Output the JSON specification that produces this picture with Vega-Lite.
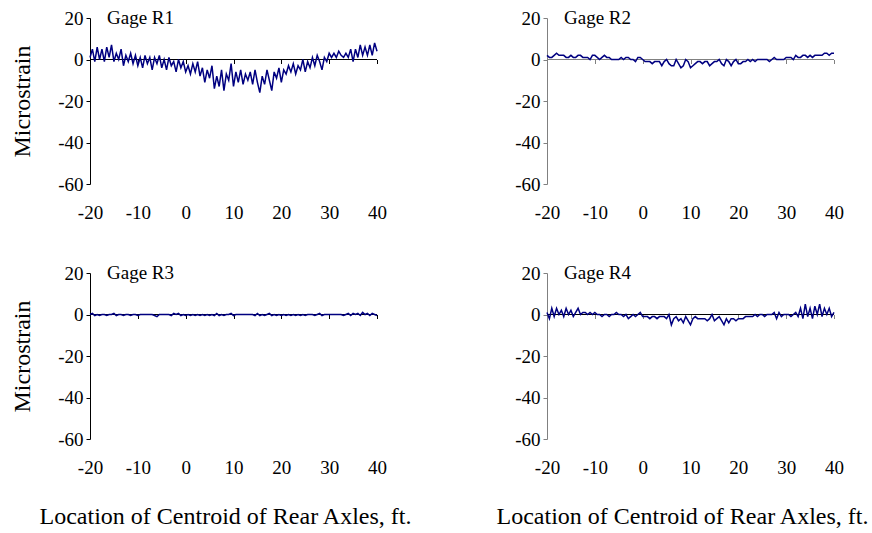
{
"$schema": "https://vega.github.io/schema/vega-lite/v6.json",
"padding": {"left": 10, "top": 9, "right": 5, "bottom": 5},
"config": {
  "view": {"stroke": null},
  "axis": {"grid": false, "labelFlush": false, "labelOverlap": false, "labelFont": "Liberation Serif", "titleFont": "Liberation Serif", "labelFontSize": 19, "titleFontSize": 24, "labelColor": "#000", "titleColor": "#000", "titleFontWeight": "normal", "domainColor": "#000", "tickColor": "#000", "labelExpr": "datum.value < 0 ? '-' + abs(datum.value) : '' + datum.value"}
},
"datasets": {
"R1": [
{"x":-20,"y":1},{"x":-19.5,"y":5},{"x":-19,"y":-1},{"x":-18.5,"y":6},{"x":-18,"y":0},{"x":-17.5,"y":5},{"x":-17,"y":-1},{"x":-16.5,"y":6},{"x":-16,"y":1},{"x":-15.5,"y":7},{"x":-15,"y":-1},{"x":-14.5,"y":3},{"x":-14,"y":0},{"x":-13.5,"y":5},{"x":-13,"y":-3},{"x":-12.5,"y":2},{"x":-12,"y":-1},{"x":-11.5,"y":3},{"x":-11,"y":-2},{"x":-10.5,"y":2},
{"x":-10,"y":-3},{"x":-9.5,"y":1},{"x":-9,"y":-4},{"x":-8.5,"y":2},{"x":-8,"y":-2},{"x":-7.5,"y":1},{"x":-7,"y":-5},{"x":-6.5,"y":1},{"x":-6,"y":-2},{"x":-5.5,"y":2},{"x":-5,"y":-4},{"x":-4.5,"y":0},{"x":-4,"y":-5},{"x":-3.5,"y":1},{"x":-3,"y":-3},{"x":-2.5,"y":-1},{"x":-2,"y":-6},{"x":-1.5,"y":0},{"x":-1,"y":-4},{"x":-0.5,"y":-1},
{"x":0,"y":-6},{"x":0.5,"y":-3},{"x":1,"y":-7},{"x":1.5,"y":-2},{"x":2,"y":-6},{"x":2.5,"y":-1},{"x":3,"y":-8},{"x":3.5,"y":-4},{"x":4,"y":-11},{"x":4.5,"y":-5},{"x":5,"y":-9},{"x":5.5,"y":-3},{"x":6,"y":-14},{"x":6.5,"y":-8},{"x":7,"y":-13},{"x":7.5,"y":-5},{"x":8,"y":-15},{"x":8.5,"y":-7},{"x":9,"y":-10},{"x":9.5,"y":-2},
{"x":10,"y":-13},{"x":10.5,"y":-6},{"x":11,"y":-11},{"x":11.5,"y":-5},{"x":12,"y":-12},{"x":12.5,"y":-7},{"x":13,"y":-10},{"x":13.5,"y":-6},{"x":14,"y":-12},{"x":14.5,"y":-5},{"x":15,"y":-11},{"x":15.5,"y":-16},{"x":16,"y":-8},{"x":16.5,"y":-12},{"x":17,"y":-5},{"x":17.5,"y":-10},{"x":18,"y":-15},{"x":18.5,"y":-6},{"x":19,"y":-9},{"x":19.5,"y":-4},
{"x":20,"y":-11},{"x":20.5,"y":-5},{"x":21,"y":-7},{"x":21.5,"y":-3},{"x":22,"y":-6},{"x":22.5,"y":-2},{"x":23,"y":-7},{"x":23.5,"y":-3},{"x":24,"y":-5},{"x":24.5,"y":0},{"x":25,"y":-6},{"x":25.5,"y":-1},{"x":26,"y":-4},{"x":26.5,"y":1},{"x":27,"y":-3},{"x":27.5,"y":2},{"x":28,"y":-1},{"x":28.5,"y":-5},{"x":29,"y":1},{"x":29.5,"y":-1},
{"x":30,"y":3},{"x":30.5,"y":1},{"x":31,"y":3},{"x":31.5,"y":1},{"x":32,"y":4},{"x":32.5,"y":2},{"x":33,"y":1},{"x":33.5,"y":3},{"x":34,"y":1},{"x":34.5,"y":5},{"x":35,"y":-1},{"x":35.5,"y":5},{"x":36,"y":1},{"x":36.5,"y":7},{"x":37,"y":2},{"x":37.5,"y":6},{"x":38,"y":2},{"x":38.5,"y":7},{"x":39,"y":2},{"x":39.5,"y":8},{"x":40,"y":4}
],
"R2": [
{"x":-20,"y":2},{"x":-19.5,"y":1},{"x":-19,"y":1},{"x":-18.5,"y":2},{"x":-18,"y":3},{"x":-17.5,"y":2},{"x":-17,"y":2},{"x":-16.5,"y":2},{"x":-16,"y":1},{"x":-15.5,"y":1},{"x":-15,"y":2},{"x":-14.5,"y":1},{"x":-14,"y":1},{"x":-13.5,"y":2},{"x":-13,"y":2},{"x":-12.5,"y":1},{"x":-12,"y":1},{"x":-11.5,"y":1},{"x":-11,"y":0},{"x":-10.5,"y":2},
{"x":-10,"y":2},{"x":-9.5,"y":1},{"x":-9,"y":0},{"x":-8.5,"y":1},{"x":-8,"y":2},{"x":-7.5,"y":1},{"x":-7,"y":1},{"x":-6.5,"y":0},{"x":-6,"y":0},{"x":-5.5,"y":0},{"x":-5,"y":0},{"x":-4.5,"y":1},{"x":-4,"y":0},{"x":-3.5,"y":1},{"x":-3,"y":1},{"x":-2.5,"y":0},{"x":-2,"y":0},{"x":-1.5,"y":-1},{"x":-1,"y":1},{"x":-0.5,"y":1},
{"x":0,"y":0},{"x":0.5,"y":-1},{"x":1,"y":-1},{"x":1.5,"y":-1},{"x":2,"y":-2},{"x":2.5,"y":-1},{"x":3,"y":-1},{"x":3.5,"y":-1},{"x":4,"y":-3},{"x":4.5,"y":-1},{"x":5,"y":0},{"x":5.5,"y":-2},{"x":6,"y":-3},{"x":6.5,"y":-3},{"x":7,"y":0},{"x":7.5,"y":-2},{"x":8,"y":-4},{"x":8.5,"y":-3},{"x":9,"y":0},{"x":9.5,"y":-1},
{"x":10,"y":-4},{"x":10.5,"y":-3},{"x":11,"y":-2},{"x":11.5,"y":-1},{"x":12,"y":-1},{"x":12.5,"y":-2},{"x":13,"y":-1},{"x":13.5,"y":-1},{"x":14,"y":-3},{"x":14.5,"y":-2},{"x":15,"y":-1},{"x":15.5,"y":-1},{"x":16,"y":0},{"x":16.5,"y":-2},{"x":17,"y":-3},{"x":17.5,"y":0},{"x":18,"y":-1},{"x":18.5,"y":-3},{"x":19,"y":-1},{"x":19.5,"y":0},
{"x":20,"y":-2},{"x":20.5,"y":-2},{"x":21,"y":-1},{"x":21.5,"y":-1},{"x":22,"y":0},{"x":22.5,"y":-1},{"x":23,"y":0},{"x":23.5,"y":-1},{"x":24,"y":0},{"x":24.5,"y":0},{"x":25,"y":0},{"x":25.5,"y":0},{"x":26,"y":0},{"x":26.5,"y":-1},{"x":27,"y":0},{"x":27.5,"y":1},{"x":28,"y":0},{"x":28.5,"y":0},{"x":29,"y":0},{"x":29.5,"y":0},
{"x":30,"y":1},{"x":30.5,"y":1},{"x":31,"y":1},{"x":31.5,"y":0},{"x":32,"y":2},{"x":32.5,"y":1},{"x":33,"y":1},{"x":33.5,"y":2},{"x":34,"y":2},{"x":34.5,"y":1},{"x":35,"y":2},{"x":35.5,"y":1},{"x":36,"y":2},{"x":36.5,"y":2},{"x":37,"y":2},{"x":37.5,"y":2},{"x":38,"y":3},{"x":38.5,"y":3},{"x":39,"y":2},{"x":39.5,"y":3},{"x":40,"y":3}
],
"R3": [
{"x":-20,"y":0},{"x":-19.5,"y":0.5},{"x":-19,"y":-0.5},{"x":-18.5,"y":0},{"x":-18,"y":-0.5},{"x":-17.5,"y":0},{"x":-17,"y":0},{"x":-16.5,"y":-0.5},{"x":-16,"y":0},{"x":-15.5,"y":0},{"x":-15,"y":0.5},{"x":-14.5,"y":-0.5},{"x":-14,"y":0},{"x":-13.5,"y":0},{"x":-13,"y":-0.5},{"x":-12.5,"y":0},{"x":-12,"y":0},{"x":-11.5,"y":-0.5},{"x":-11,"y":0},{"x":-10.5,"y":0},
{"x":-10,"y":-0.5},{"x":-9.5,"y":0},{"x":-9,"y":0},{"x":-8.5,"y":0},{"x":-8,"y":0},{"x":-7.5,"y":0},{"x":-7,"y":0},{"x":-6.5,"y":-0.5},{"x":-6,"y":-1},{"x":-5.5,"y":0},{"x":-5,"y":0},{"x":-4.5,"y":0},{"x":-4,"y":0},{"x":-3.5,"y":0},{"x":-3,"y":-0.5},{"x":-2.5,"y":0.5},{"x":-2,"y":0},{"x":-1.5,"y":0.5},{"x":-1,"y":-0.5},{"x":-0.5,"y":0},
{"x":0,"y":-0.5},{"x":0.5,"y":0},{"x":1,"y":-0.5},{"x":1.5,"y":0},{"x":2,"y":-0.5},{"x":2.5,"y":0},{"x":3,"y":-0.5},{"x":3.5,"y":0},{"x":4,"y":-0.5},{"x":4.5,"y":0},{"x":5,"y":-0.5},{"x":5.5,"y":0},{"x":6,"y":-0.5},{"x":6.5,"y":0.5},{"x":7,"y":-0.5},{"x":7.5,"y":0},{"x":8,"y":-0.5},{"x":8.5,"y":0},{"x":9,"y":0},{"x":9.5,"y":0.5},
{"x":10,"y":-0.5},{"x":10.5,"y":0},{"x":11,"y":0},{"x":11.5,"y":0},{"x":12,"y":0},{"x":12.5,"y":0},{"x":13,"y":0},{"x":13.5,"y":0},{"x":14,"y":0},{"x":14.5,"y":-0.5},{"x":15,"y":0.5},{"x":15.5,"y":-0.5},{"x":16,"y":0},{"x":16.5,"y":-0.5},{"x":17,"y":0},{"x":17.5,"y":0.5},{"x":18,"y":-0.5},{"x":18.5,"y":0},{"x":19,"y":-0.5},{"x":19.5,"y":0},
{"x":20,"y":-0.5},{"x":20.5,"y":0},{"x":21,"y":-0.5},{"x":21.5,"y":0},{"x":22,"y":-0.5},{"x":22.5,"y":0},{"x":23,"y":-0.5},{"x":23.5,"y":0},{"x":24,"y":-0.5},{"x":24.5,"y":0},{"x":25,"y":-0.5},{"x":25.5,"y":0},{"x":26,"y":0},{"x":26.5,"y":0},{"x":27,"y":-0.5},{"x":27.5,"y":0},{"x":28,"y":0.5},{"x":28.5,"y":-0.5},{"x":29,"y":0},{"x":29.5,"y":0},
{"x":30,"y":0},{"x":30.5,"y":0},{"x":31,"y":0},{"x":31.5,"y":0},{"x":32,"y":0},{"x":32.5,"y":0},{"x":33,"y":-0.5},{"x":33.5,"y":0},{"x":34,"y":0.5},{"x":34.5,"y":-0.5},{"x":35,"y":0.5},{"x":35.5,"y":0},{"x":36,"y":0.5},{"x":36.5,"y":-0.5},{"x":37,"y":1},{"x":37.5,"y":0},{"x":38,"y":0.5},{"x":38.5,"y":-0.5},{"x":39,"y":0.5},{"x":39.5,"y":0},{"x":40,"y":-0.5}
],
"R4": [
{"x":-20,"y":1},{"x":-19.5,"y":-2},{"x":-19,"y":3},{"x":-18.5,"y":-1},{"x":-18,"y":3},{"x":-17.5,"y":0},{"x":-17,"y":2},{"x":-16.5,"y":-1},{"x":-16,"y":3},{"x":-15.5,"y":0},{"x":-15,"y":2},{"x":-14.5,"y":-1},{"x":-14,"y":1},{"x":-13.5,"y":3},{"x":-13,"y":0},{"x":-12.5,"y":1},{"x":-12,"y":1},{"x":-11.5,"y":0},{"x":-11,"y":1},{"x":-10.5,"y":0},
{"x":-10,"y":1},{"x":-9.5,"y":0},{"x":-9,"y":0},{"x":-8.5,"y":-1},{"x":-8,"y":0},{"x":-7.5,"y":0},{"x":-7,"y":-1},{"x":-6.5,"y":0},{"x":-6,"y":0},{"x":-5.5,"y":1},{"x":-5,"y":0},{"x":-4.5,"y":0},{"x":-4,"y":-1},{"x":-3.5,"y":0},{"x":-3,"y":-2},{"x":-2.5,"y":-1},{"x":-2,"y":0},{"x":-1.5,"y":-1},{"x":-1,"y":0},{"x":-0.5,"y":1},
{"x":0,"y":-1},{"x":0.5,"y":-1},{"x":1,"y":-1},{"x":1.5,"y":-2},{"x":2,"y":-1},{"x":2.5,"y":-1},{"x":3,"y":-2},{"x":3.5,"y":-1},{"x":4,"y":-1},{"x":4.5,"y":-1},{"x":5,"y":-2},{"x":5.5,"y":0},{"x":6,"y":-5},{"x":6.5,"y":-2},{"x":7,"y":-1},{"x":7.5,"y":-3},{"x":8,"y":-2},{"x":8.5,"y":-4},{"x":9,"y":-1},{"x":9.5,"y":-3},
{"x":10,"y":-5},{"x":10.5,"y":-2},{"x":11,"y":-1},{"x":11.5,"y":-2},{"x":12,"y":-2},{"x":12.5,"y":-2},{"x":13,"y":-2},{"x":13.5,"y":-3},{"x":14,"y":-2},{"x":14.5,"y":0},{"x":15,"y":-3},{"x":15.5,"y":-2},{"x":16,"y":-1},{"x":16.5,"y":-3},{"x":17,"y":-5},{"x":17.5,"y":-2},{"x":18,"y":-4},{"x":18.5,"y":-2},{"x":19,"y":-2},{"x":19.5,"y":-3},
{"x":20,"y":-2},{"x":20.5,"y":-2},{"x":21,"y":-2},{"x":21.5,"y":-1},{"x":22,"y":-1},{"x":22.5,"y":-1},{"x":23,"y":-1},{"x":23.5,"y":0},{"x":24,"y":-1},{"x":24.5,"y":0},{"x":25,"y":0},{"x":25.5,"y":-1},{"x":26,"y":0},{"x":26.5,"y":0},{"x":27,"y":0},{"x":27.5,"y":1},{"x":28,"y":-2},{"x":28.5,"y":1},{"x":29,"y":-1},{"x":29.5,"y":0},
{"x":30,"y":0},{"x":30.5,"y":0},{"x":31,"y":-1},{"x":31.5,"y":0},{"x":32,"y":1},{"x":32.5,"y":-1},{"x":33,"y":3},{"x":33.5,"y":-2},{"x":34,"y":5},{"x":34.5,"y":-1},{"x":35,"y":3},{"x":35.5,"y":-2},{"x":36,"y":4},{"x":36.5,"y":0},{"x":37,"y":5},{"x":37.5,"y":-1},{"x":38,"y":3},{"x":38.5,"y":0},{"x":39,"y":3},{"x":39.5,"y":-1},{"x":40,"y":1}
]
},
"columns": 2,
"spacing": {"row": 89, "column": 170},
"bounds": "flush",
"concat": [
{
 "width": 287, "height": 166,
 "layer": [
  {"data": {"values": [{}]},
   "mark": {"type": "rule", "color": "#000", "strokeWidth": 1},
   "encoding": {
     "x": {"datum": -20, "type": "quantitative", "scale": {"domain": [-20, 40], "nice": false, "zero": false}, "axis": {"orient": "bottom", "offset": -124.5, "values": [-20,-10,0,10,20,30,40], "labels": false, "domain": false, "ticks": true, "tickSize": 4, "title": null}},
     "x2": {"datum": 40},
     "y": {"datum": 0, "type": "quantitative"}
   }},
  {"data": {"name": "R1"},
   "mark": {"type": "line", "color": "#000080", "strokeWidth": 1.5},
   "encoding": {
     "x": {"field": "x", "type": "quantitative", "scale": {"domain": [-20, 40], "nice": false, "zero": false}, "axis": {"orient": "bottom", "values": [-20,-10,0,10,20,30,40], "domain": false, "ticks": false, "tickSize": 0, "labelPadding": 19, "labelFlush": false, "labelFont": "Liberation Serif", "title": null}},
     "y": {"field": "y", "type": "quantitative", "scale": {"domain": [-60, 20], "nice": false}, "axis": {"values": [-60,-40,-20,0,20], "tickSize": 4, "labelPadding": 3, "labelFont": "Liberation Serif", "title": "Microstrain", "titleX": -68, "titleY": 83, "titleAngle": 270, "titleAlign": "center", "titleBaseline": "middle"}}
   }},
  {"data": {"values": [{}]},
   "mark": {"type": "text", "align": "left", "baseline": "middle", "fontSize": 19, "font": "Liberation Serif", "color": "#000"},
   "encoding": {"x": {"datum": -16.45, "type": "quantitative", "axis": null}, "y": {"datum": 20, "type": "quantitative"}, "text": {"value": "Gage R1"}}}
 ],
 "resolve": {"axis": {"x": "independent"}}
},
{
 "width": 287, "height": 166,
 "layer": [
  {"data": {"values": [{}]},
   "mark": {"type": "rule", "color": "#808080", "strokeWidth": 1},
   "encoding": {
     "x": {"datum": -20, "type": "quantitative", "scale": {"domain": [-20, 40], "nice": false, "zero": false}, "axis": {"orient": "bottom", "offset": -124.5, "values": [-20,-10,0,10,20,30,40], "labels": false, "domain": false, "ticks": true, "tickSize": 4, "tickColor": "#808080", "title": null}},
     "x2": {"datum": 40},
     "y": {"datum": 0, "type": "quantitative"}
   }},
  {"data": {"name": "R2"},
   "mark": {"type": "line", "color": "#000080", "strokeWidth": 1.5},
   "encoding": {
     "x": {"field": "x", "type": "quantitative", "scale": {"domain": [-20, 40], "nice": false, "zero": false}, "axis": {"orient": "bottom", "values": [-20,-10,0,10,20,30,40], "domain": false, "ticks": false, "tickSize": 0, "labelPadding": 19, "labelFlush": false, "labelFont": "Liberation Serif", "title": null}},
     "y": {"field": "y", "type": "quantitative", "scale": {"domain": [-60, 20], "nice": false}, "axis": {"values": [-60,-40,-20,0,20], "tickSize": 4, "labelPadding": 3, "labelFont": "Liberation Serif", "title": null, "domainColor": "#808080", "tickColor": "#808080"}}
   }},
  {"data": {"values": [{}]},
   "mark": {"type": "text", "align": "left", "baseline": "middle", "fontSize": 19, "font": "Liberation Serif", "color": "#000"},
   "encoding": {"x": {"datum": -16.45, "type": "quantitative", "axis": null}, "y": {"datum": 20, "type": "quantitative"}, "text": {"value": "Gage R2"}}}
 ],
 "resolve": {"axis": {"x": "independent"}}
},
{
 "width": 287, "height": 166,
 "layer": [
  {"data": {"values": [{}]},
   "mark": {"type": "rule", "color": "#000", "strokeWidth": 1},
   "encoding": {
     "x": {"datum": -20, "type": "quantitative", "scale": {"domain": [-20, 40], "nice": false, "zero": false}, "axis": {"orient": "bottom", "offset": -124.5, "values": [-20,-10,0,10,20,30,40], "labels": false, "domain": false, "ticks": true, "tickSize": 4, "title": null}},
     "x2": {"datum": 40},
     "y": {"datum": 0, "type": "quantitative"}
   }},
  {"data": {"name": "R3"},
   "mark": {"type": "line", "color": "#000080", "strokeWidth": 1.5},
   "encoding": {
     "x": {"field": "x", "type": "quantitative", "scale": {"domain": [-20, 40], "nice": false, "zero": false}, "axis": {"orient": "bottom", "values": [-20,-10,0,10,20,30,40], "domain": false, "ticks": false, "tickSize": 0, "labelPadding": 19, "labelFlush": false, "labelFont": "Liberation Serif", "title": "Location of Centroid of Rear Axles, ft.", "titleX": 135, "titleY": 77, "titleAlign": "center", "titleBaseline": "middle"}},
     "y": {"field": "y", "type": "quantitative", "scale": {"domain": [-60, 20], "nice": false}, "axis": {"values": [-60,-40,-20,0,20], "tickSize": 4, "labelPadding": 3, "labelFont": "Liberation Serif", "title": "Microstrain", "titleX": -68, "titleY": 83, "titleAngle": 270, "titleAlign": "center", "titleBaseline": "middle"}}
   }},
  {"data": {"values": [{}]},
   "mark": {"type": "text", "align": "left", "baseline": "middle", "fontSize": 19, "font": "Liberation Serif", "color": "#000"},
   "encoding": {"x": {"datum": -16.45, "type": "quantitative", "axis": null}, "y": {"datum": 20, "type": "quantitative"}, "text": {"value": "Gage R3"}}}
 ],
 "resolve": {"axis": {"x": "independent"}}
},
{
 "width": 287, "height": 166,
 "layer": [
  {"data": {"values": [{}]},
   "mark": {"type": "rule", "color": "#000", "strokeWidth": 1},
   "encoding": {
     "x": {"datum": -20, "type": "quantitative", "scale": {"domain": [-20, 40], "nice": false, "zero": false}, "axis": {"orient": "bottom", "offset": -124.5, "values": [-20,-10,0,10,20,30,40], "labels": false, "domain": false, "ticks": true, "tickSize": 4, "tickColor": "#808080", "title": null}},
     "x2": {"datum": 40},
     "y": {"datum": 0, "type": "quantitative"}
   }},
  {"data": {"name": "R4"},
   "mark": {"type": "line", "color": "#000080", "strokeWidth": 1.5},
   "encoding": {
     "x": {"field": "x", "type": "quantitative", "scale": {"domain": [-20, 40], "nice": false, "zero": false}, "axis": {"orient": "bottom", "values": [-20,-10,0,10,20,30,40], "domain": false, "ticks": false, "tickSize": 0, "labelPadding": 19, "labelFlush": false, "labelFont": "Liberation Serif", "title": "Location of Centroid of Rear Axles, ft.", "titleX": 135, "titleY": 77, "titleAlign": "center", "titleBaseline": "middle"}},
     "y": {"field": "y", "type": "quantitative", "scale": {"domain": [-60, 20], "nice": false}, "axis": {"values": [-60,-40,-20,0,20], "tickSize": 4, "labelPadding": 3, "labelFont": "Liberation Serif", "title": null, "domainColor": "#808080", "tickColor": "#808080"}}
   }},
  {"data": {"values": [{}]},
   "mark": {"type": "text", "align": "left", "baseline": "middle", "fontSize": 19, "font": "Liberation Serif", "color": "#000"},
   "encoding": {"x": {"datum": -16.45, "type": "quantitative", "axis": null}, "y": {"datum": 20, "type": "quantitative"}, "text": {"value": "Gage R4"}}}
 ],
 "resolve": {"axis": {"x": "independent"}}
}
]
}
